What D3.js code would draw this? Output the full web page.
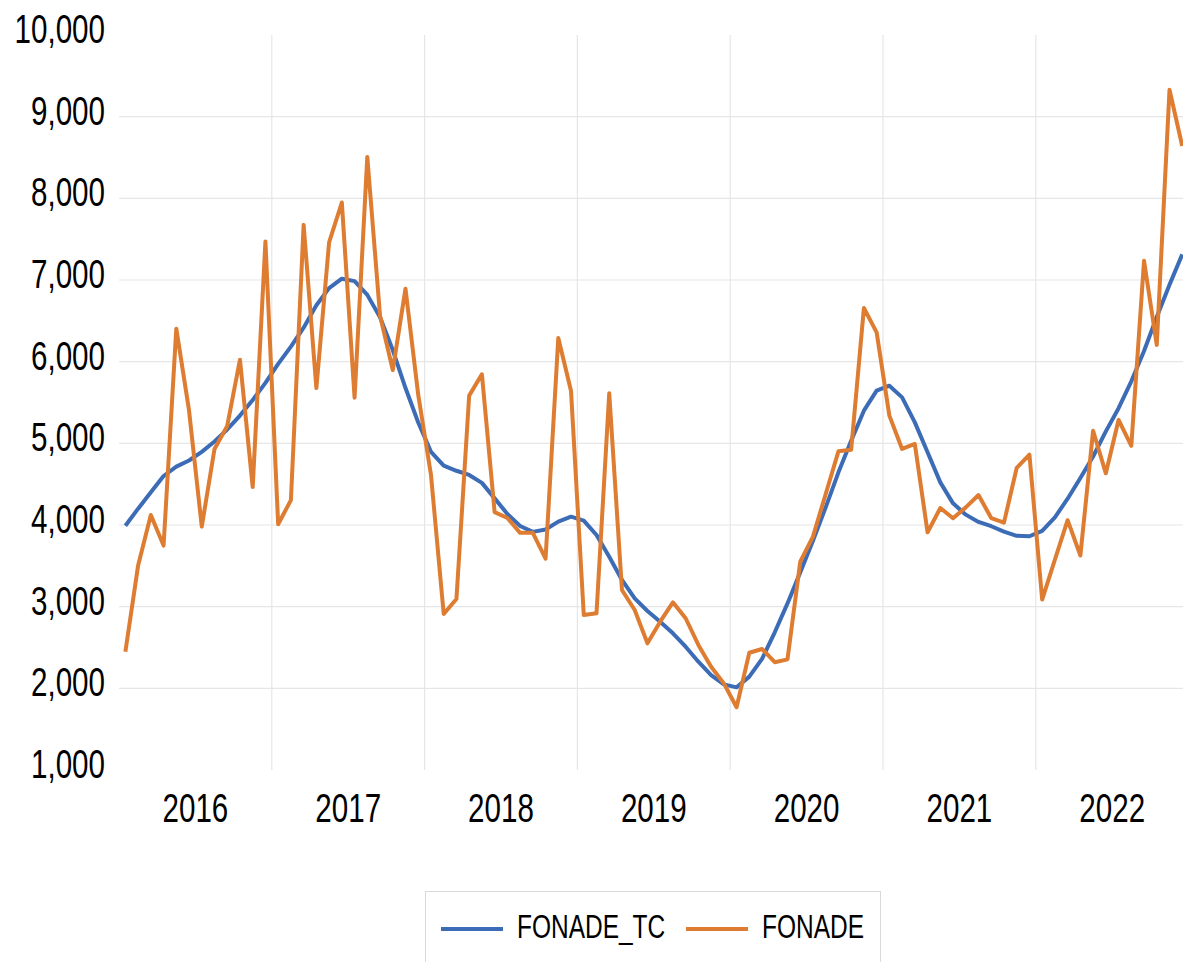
<!DOCTYPE html>
<html>
<head>
<meta charset="utf-8">
<script src="https://cdn.jsdelivr.net/npm/d3@7"></script>
<style>
    body { margin: 0; background: #ffffff; }
    svg { display: block; }
    text { font-family: "Liberation Sans", Arial, sans-serif; fill: #000; }
</style>
</head>
<body>
<svg></svg>
<script>
// Years shown on the x axis, 12 monthly points each
const years = ["2016", "2017", "2018", "2019", "2020", "2021", "2022"];
const months = ["01", "02", "03", "04", "05", "06", "07", "08", "09", "10", "11", "12"];

// Y axis tick values
const yTicks = [1000, 2000, 3000, 4000, 5000, 6000, 7000, 8000, 9000, 10000];

// Series names (legend order)
const seriesNames = ["FONADE_TC", "FONADE"];

// Trend-cycle series, Jan 2016 .. Dec 2022
const fonadeTC = [
    3990, 4200, 4400, 4600, 4715, 4790, 4896, 5023, 5170, 5340, 5530, 5740,
    5973, 6184, 6416, 6690, 6900, 7016, 6986, 6818, 6543, 6142, 5677, 5255,
    4896, 4727, 4664, 4613, 4516, 4326, 4135, 3988, 3916, 3945, 4041, 4102,
    4053, 3878, 3612, 3327, 3102, 2947, 2816, 2674, 2510, 2326, 2163, 2049,
    2012, 2143, 2360, 2686, 3040, 3420, 3808, 4216, 4645, 5033, 5400, 5645,
    5706, 5563, 5257, 4890, 4522, 4265, 4127, 4038, 3985, 3919, 3867, 3862,
    3928, 4094, 4322, 4576, 4839, 5146, 5430, 5759, 6131, 6547, 6941, 7314
];

// Raw series, Jan 2016 .. Dec 2022
const fonade = [
    2447, 3503, 4123, 3748, 6404, 5403, 3980, 4930, 5213, 6024, 4465, 7472,
    4009, 4305, 7675, 5677, 7460, 7949, 5559, 8507, 6564, 5897, 6894, 5593,
    4615, 2911, 3093, 5584, 5846, 4157, 4085, 3904, 3904, 3587, 6290, 5640,
    2898, 2919, 5613, 3204, 2959, 2551, 2816, 3053, 2858, 2531, 2265, 2061,
    1768, 2436, 2482, 2320, 2355, 3550, 3857, 4380, 4902, 4922, 6657, 6359,
    5339, 4931, 4992, 3910, 4208, 4082, 4216, 4367, 4085, 4029, 4699, 4861,
    3087, 3577, 4059, 3626, 5154, 4633, 5286, 4970, 7235, 6205, 9329, 8641
];

const colors = ["#3d6cb6", "#de7c31"];

function main() {
    // build month keys like "2016-01"
    let categories = [];
    years.forEach(y => months.forEach(m => categories.push(y + "-" + m)));

    let series = [fonadeTC, fonade].map((values, k) => ({
        name: seriesNames[k],
        color: colors[k],
        points: values.map((v, i) => ({ key: categories[i], value: v }))
    }));

    drawChart(categories, series);
}

function drawChart(categories, series) {

    const canvasWidth = 1183;
    const canvasHeight = 962;
    const plotLeft = 119;
    const plotRight = 1188.6;   // plot runs a little past the window edge
    const plotTop = 35;
    const plotBottom = 770;
    // the original font is a condensed one, so squeeze the text horizontally
    const squeeze = 0.74;

    let svg = d3.select("svg")
        .attr("width", canvasWidth)
        .attr("height", canvasHeight);

    let xScale = d3.scaleBand()
        .domain(categories)
        .range([plotLeft, plotRight]);

    let yScale = d3.scaleLinear()
        .domain([1000, 10000])
        .range([plotBottom, plotTop]);

    // horizontal gridlines (none at the top and bottom edge)
    svg.append("g")
        .selectAll("line")
        .data(yTicks.slice(1, -1))
        .join("line")
        .attr("x1", plotLeft)
        .attr("x2", plotRight)
        .attr("y1", d => yScale(d))
        .attr("y2", d => yScale(d))
        .attr("stroke", "#e6e6e6")
        .attr("stroke-width", 1.2);

    // vertical gridlines between years
    svg.append("g")
        .selectAll("line")
        .data(years.slice(1))
        .join("line")
        .attr("x1", d => xScale(d + "-01"))
        .attr("x2", d => xScale(d + "-01"))
        .attr("y1", plotTop)
        .attr("y2", plotBottom)
        .attr("stroke", "#e6e6e6")
        .attr("stroke-width", 1.2);

    // Y axis labels
    svg.append("g")
        .selectAll("text")
        .data(yTicks)
        .join("text")
        .text(d => d3.format(",")(d))
        .attr("transform", d => `translate(105, ${yScale(d) + 8}) scale(${squeeze}, 1)`)
        .attr("font-size", "40")
        .style("text-anchor", "end");

    // X axis year labels, centered on each year's 12 months
    svg.append("g")
        .selectAll("text")
        .data(years)
        .join("text")
        .text(d => d)
        .attr("transform", d => {
            let cx = (xScale(d + "-01") + xScale(d + "-12") + xScale.bandwidth()) / 2;
            return `translate(${cx}, 822) scale(${squeeze}, 1)`;
        })
        .attr("font-size", "40")
        .style("text-anchor", "middle");

    // lines
    let line = d3.line()
        .x(d => xScale(d.key) + xScale.bandwidth() / 2)
        .y(d => yScale(d.value));

    svg.append("g")
        .selectAll("path")
        .data(series)
        .join("path")
        .attr("fill", "none")
        .attr("stroke", d => d.color)
        .attr("stroke-width", 4)
        .attr("stroke-linejoin", "round")
        .attr("d", d => line(d.points));

    // Legend box
    svg.append("rect")
        .attr("x", 425.5)
        .attr("y", 891.5)
        .attr("width", 455)
        .attr("height", 90)
        .attr("fill", "#ffffff")
        .attr("stroke", "#d9d9d9")
        .attr("stroke-width", 1);

    const legendX = [441, 686];
    let legend = svg.append("g")
        .selectAll("g")
        .data(series)
        .join("g")
        .attr("transform", (d, i) => `translate(${legendX[i]}, 929)`);

    legend.append("line")
        .attr("x1", 0)
        .attr("x2", 62)
        .attr("stroke", d => d.color)
        .attr("stroke-width", 4);

    legend.append("text")
        .text(d => d.name)
        .attr("transform", `translate(76, 9) scale(0.72, 1)`)
        .attr("font-size", "34");
}

main();
</script>
</body>
</html>
